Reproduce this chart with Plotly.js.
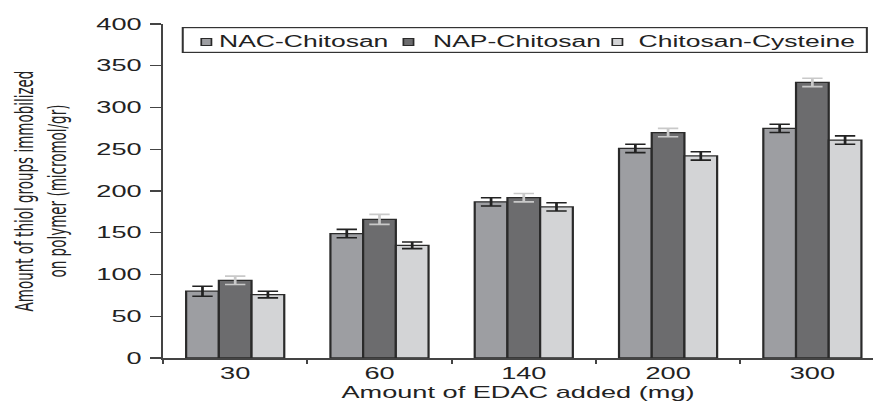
<!DOCTYPE html>
<html>
<head>
<meta charset="utf-8">
<script src="https://cdn.plot.ly/plotly-3.0.1.min.js"></script>
<style>
html,body{margin:0;padding:0;background:#fff;overflow:hidden}
#wrap{width:873px;height:403px;overflow:hidden;position:relative}
#plot{width:514px;height:403px;transform:scaleX(1.6984);transform-origin:0 0}
</style>
</head>
<body>
<div id="wrap"><div id="plot"></div></div>
<script>
// ---- data ----
const categories = ['30', '60', '140', '200', '300'];
const seriesNames = ['NAC-Chitosan', 'NAP-Chitosan', 'Chitosan-Cysteine'];
const nacValues = [80, 149, 187, 251, 275];
const napValues = [93, 166, 192, 270, 330];
const cysValues = [76, 135, 181, 242, 261];
const nacErrors = [6, 5, 5, 5, 5];
const napErrors = [5, 6, 5, 5, 5];
const cysErrors = [4, 4, 5, 5, 5];
const yTickValues = [0, 50, 100, 150, 200, 250, 300, 350, 400];

// ---- styling ----
const fills = ['#9d9ea2', '#6c6c6e', '#d3d4d6'];
const errColors = ['#222222', '#c9c9c9', '#222222'];
const textFont = 'Liberation Sans, Arial, Helvetica, sans-serif';

function barTrace(i, values, errors) {
  return {
    type: 'bar',
    name: seriesNames[i],
    x: categories,
    y: values,
    marker: {color: fills[i], line: {color: '#2a2a2a', width: 1.3}},
    error_y: {type: 'data', array: errors, visible: true, color: errColors[i], thickness: 1.6, width: 6},
    showlegend: false,
    hoverinfo: 'skip'
  };
}

const data = [
  barTrace(0, nacValues, nacErrors),
  barTrace(1, napValues, napErrors),
  barTrace(2, cysValues, cysErrors)
];

// legend drawn as annotations (paper coordinates)
const legendSymbolX = [0.0605, 0.3457, 0.6395];
const legendTextX = [0.0766, 0.3775, 0.6685];
const legendY = 0.9476;
const annotations = [
  {xref: 'paper', yref: 'paper', x: 0.509, y: 0.952, xanchor: 'center', yanchor: 'middle',
   text: ' ', showarrow: false, width: 402, height: 24, borderpad: 0,
   bordercolor: '#333333', borderwidth: 1.2, bgcolor: 'rgba(255,255,255,0)'}
];
seriesNames.forEach((name, i) => {
  annotations.push({xref: 'paper', yref: 'paper', x: legendSymbolX[i], y: legendY,
    xanchor: 'center', yanchor: 'middle', text: ' ', showarrow: false,
    width: 5, height: 6, borderpad: 0, bordercolor: '#2a2a2a', borderwidth: 1, bgcolor: fills[i],
    font: {size: 4}});
  annotations.push({xref: 'paper', yref: 'paper', x: legendTextX[i], y: legendY,
    xanchor: 'left', yanchor: 'middle', text: name, showarrow: false, borderpad: 0,
    font: {family: textFont, size: 15.6, color: '#222222'}});
});

const layout = {
  width: 514,
  height: 403,
  margin: {l: 96, r: 0, t: 24, b: 45, pad: 0},
  paper_bgcolor: '#ffffff',
  plot_bgcolor: '#ffffff',
  barmode: 'group',
  bargap: 0.32,
  bargroupgap: 0,
  showlegend: false,
  annotations: annotations,
  xaxis: {
    type: 'category',
    categoryorder: 'array',
    categoryarray: categories,
    range: [-0.5, 4.42],
    showline: true, linecolor: '#444444', linewidth: 1.5,
    ticks: 'outside', tickson: 'boundaries', ticklen: 4, tickwidth: 1.2, tickcolor: '#444444',
    showgrid: false, zeroline: false,
    tickfont: {family: textFont, size: 16, color: '#222222'},
    title: {text: 'Amount of EDAC added (mg)', font: {family: textFont, size: 16, color: '#222222'}, standoff: 6},
    fixedrange: true
  },
  yaxis: {
    range: [0, 400],
    tickmode: 'array', tickvals: yTickValues,
    showline: true, linecolor: '#444444', linewidth: 1.4,
    ticks: 'outside', ticklen: 6, tickwidth: 1.4, tickcolor: '#444444',
    ticklabelstandoff: 2,
    showgrid: false, zeroline: false,
    tickfont: {family: textFont, size: 16, color: '#222222'},
    title: {
      text: 'Amount of thiol groups immobilized<br>on polymer (micromol/gr)',
      font: {family: 'Liberation Sans Narrow, DejaVu Sans Condensed, Arial Narrow, sans-serif', size: 15, color: '#222222'},
      standoff: 13
    },
    fixedrange: true
  }
};

Plotly.newPlot('plot', data, layout, {staticPlot: true, displayModeBar: false});
</script>
</body>
</html>
